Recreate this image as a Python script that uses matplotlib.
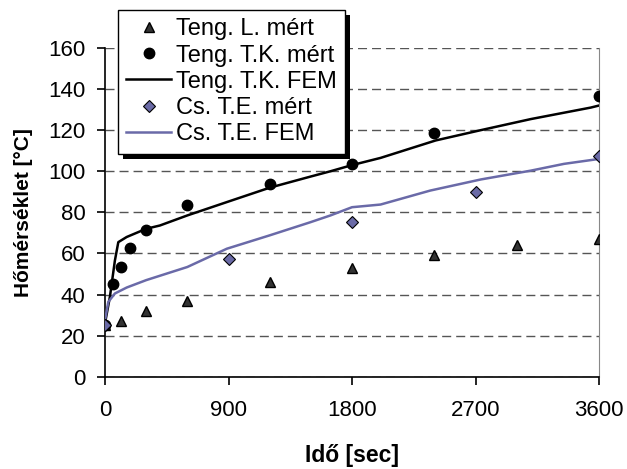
import matplotlib.pyplot as plt
from matplotlib.patches import Rectangle

plt.rcParams['font.family'] = ['Liberation Sans', 'DejaVu Sans']

# Teng. L. mért
t_l = [0, 120, 300, 600, 1200, 1800, 2400, 3000, 3600]
v_l = [25, 27, 32, 37, 46, 53, 59, 64, 67]

# Teng. T.K. mért
t_tk = [0, 60, 120, 180, 300, 600, 1200, 1800, 2400, 3600]
v_tk = [25, 45, 53.5, 62.5, 71.5, 83.5, 94, 103.5, 118.5, 136.5]

# Teng. T.K. FEM
t_tk_fem = [0, 36, 72, 97, 158, 300, 400, 600, 888, 1200, 1497, 1643, 1800,
            2008, 2410, 2738, 3103, 3540, 3600]
v_tk_fem = [26, 39, 56.5, 65.5, 68, 72, 73.6, 78.5, 85, 92, 97.4, 100, 103,
            106.5, 115, 120, 125.4, 131, 132]

# Cs. T.E. mért
t_te = [0, 900, 1800, 2700, 3600]
v_te = [25, 57.5, 75.3, 89.8, 107.5]

# Cs. T.E. FEM
t_te_fem = [0, 24, 72, 158, 300, 600, 888, 1200, 1497, 1643, 1800, 2008,
            2370, 2738, 3103, 3345, 3600]
v_te_fem = [27.5, 36.4, 40.5, 43.4, 47, 53.4, 62.3, 68.8, 75.2, 78.5, 82.5,
            83.8, 90.6, 96, 100.3, 103.6, 106]

W, H = 627, 469
fig = plt.figure(figsize=(W / 100, H / 100), dpi=100)
ax = fig.add_axes([105 / W, 1 - 376.7 / H, 494 / W, (376.7 - 48) / H])

ax.plot(t_l, v_l, linestyle='none', marker='^', markersize=6.5,
        color='#333333', markeredgecolor='black', label='Teng. L. mért', zorder=4)
ax.plot(t_tk, v_tk, linestyle='none', marker='o', markersize=7.5,
        color='black', label='Teng. T.K. mért', zorder=4)
ax.plot(t_tk_fem, v_tk_fem, color='black', linewidth=1.8,
        label='Teng. T.K. FEM', zorder=3)
ax.plot(t_te, v_te, linestyle='none', marker='D', markersize=6.5,
        color='#6A6AA6', markeredgecolor='black', markeredgewidth=0.8,
        label='Cs. T.E. mért', zorder=5)
ax.plot(t_te_fem, v_te_fem, color='#6A6AA8', linewidth=1.8,
        label='Cs. T.E. FEM', zorder=3)

ax.set_xlim(0, 3600)
ax.set_ylim(0, 160)
ax.set_xticks([0, 900, 1800, 2700, 3600])
ax.set_yticks(range(0, 161, 20))
ax.tick_params(axis='both', labelsize=16, direction='out', length=6, width=1.2)
ax.tick_params(axis='x', pad=11)
ax.tick_params(axis='y', pad=8)

ax.grid(axis='y', linestyle=(0, (6.5, 3.6)), color='#555555', linewidth=1.0)
ax.set_axisbelow(True)
ax.spines['top'].set_visible(False)
ax.spines['right'].set_color('#888888')
ax.spines['left'].set_linewidth(1.2)
ax.spines['bottom'].set_linewidth(1.2)

ax.set_xlabel('Idő [sec]', fontsize=16.5, fontweight='bold', va='center')
ax.xaxis.set_label_coords(0.5, (376.7 - 455) / 328.7)
ax.set_ylabel('Hőmérséklet [°C]', fontsize=15, fontweight='bold', va='center')
ax.yaxis.set_label_coords((23 - 105) / 494, 0.5)

handles, labels = ax.get_legend_handles_labels()
leg = fig.legend(handles, labels, loc='upper left',
                 bbox_to_anchor=(118 / W, 1 - 10 / H), borderaxespad=0,
                 fontsize=17, frameon=True, fancybox=False, framealpha=1,
                 handlelength=1.9, handletextpad=0.2, labelspacing=0.18,
                 borderpad=0.35)
leg.get_frame().set_edgecolor('black')
leg.get_frame().set_linewidth(1.0)
leg.set_zorder(10)

# black drop shadow behind the legend box
fig.canvas.draw()
bb = leg.get_frame().get_window_extent()
fig.patches.append(Rectangle((bb.x0 + 5, bb.y0 - 5), bb.width, bb.height,
                             transform=None, facecolor='black',
                             edgecolor='none', zorder=9))

fig.savefig('out.png', dpi=100)
